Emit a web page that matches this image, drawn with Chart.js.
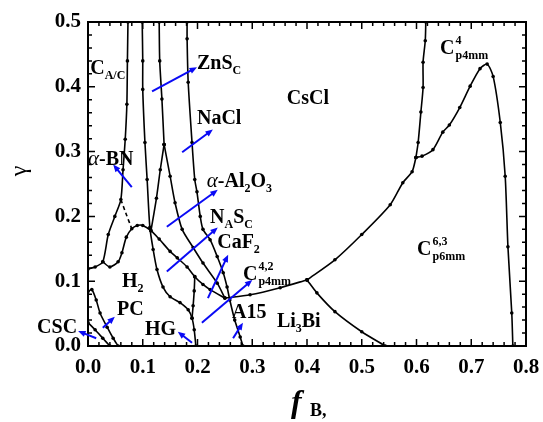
<!DOCTYPE html>
<html>
<head>
<meta charset="utf-8">
<script src="https://cdn.jsdelivr.net/npm/chart.js@4.4.0/dist/chart.umd.min.js"></script>
<style>
  html, body { margin: 0; padding: 0; background: #fff; }
  #wrap { width: 543px; height: 422px; }
</style>
</head>
<body>
<div id="wrap"><canvas id="phase"></canvas></div>
<script>
    // phase boundaries, [f_B, gamma]
    const lineA = [[0.073,0.50],[0.072,0.44],[0.071,0.373],[0.068,0.319],[0.064,0.272],[0.060,0.226],[0.049,0.200],[0.037,0.172],[0.027,0.130],[0.013,0.122],[0,0.119]];
    const dashAB = [[0.060,0.226],[0.070,0.203],[0.080,0.181]];
    const dome = [[0.027,0.130],[0.040,0.122],[0.055,0.130],[0.062,0.144],[0.070,0.168],[0.080,0.181],[0.090,0.186],[0.100,0.186],[0.115,0.178],[0.130,0.165],[0.150,0.146],[0.163,0.136],[0.181,0.122],[0.195,0.107],[0.210,0.095],[0.223,0.087],[0.250,0.074]];
    const lineB = [[0.099,0.50],[0.100,0.44],[0.100,0.396],[0.104,0.314],[0.108,0.257],[0.113,0.183],[0.119,0.149],[0.126,0.118],[0.137,0.091],[0.150,0.076],[0.168,0.067],[0.183,0.056],[0.190,0.043],[0.194,0.025],[0.197,0]];
    const lineC = [[0.130,0.50],[0.131,0.44],[0.135,0.381],[0.139,0.311]];
    const lineCleft = [[0.139,0.311],[0.132,0.272],[0.125,0.228],[0.115,0.178]];
    const lineCright = [[0.139,0.311],[0.150,0.262],[0.159,0.221],[0.172,0.180],[0.192,0.152],[0.210,0.128],[0.236,0.097],[0.250,0.074]];
    const lineHG = [[0.195,0.107],[0.194,0.085],[0.192,0.062],[0.190,0.043]];
    const lineD = [[0.181,0.50],[0.181,0.474],[0.183,0.407],[0.190,0.314],[0.195,0.257],[0.199,0.238],[0.205,0.200],[0.210,0.180],[0.223,0.164],[0.236,0.138],[0.247,0.113],[0.254,0.091],[0.259,0.071],[0.268,0.040],[0.278,0.014],[0.283,0]];
    const lineC42 = [[0.250,0.074],[0.296,0.079],[0.351,0.090],[0.400,0.102]];
    const lineLi3Bi = [[0.400,0.102],[0.418,0.082],[0.451,0.053],[0.500,0.022],[0.543,0]];
    const bigLow = [[0.400,0.102],[0.451,0.133],[0.500,0.172],[0.552,0.218],[0.575,0.252],[0.592,0.269],[0.599,0.291]];
    const bigHigh = [[0.599,0.291],[0.610,0.293],[0.630,0.303],[0.648,0.330],[0.660,0.341],[0.679,0.368],[0.698,0.401],[0.716,0.428],[0.729,0.435],[0.740,0.416],[0.753,0.345],[0.762,0.262],[0.767,0.153],[0.774,0.051],[0.776,0]];
    const lineE = [[0.617,0.50],[0.616,0.471],[0.612,0.438],[0.612,0.399],[0.608,0.361],[0.603,0.314],[0.599,0.291]];
    const linePC1 = [[0,0.084],[0.007,0.087],[0.015,0.071],[0.022,0.051],[0.035,0.029],[0.046,0.012],[0.055,0]];
    const linePC2 = [[0,0.036],[0.013,0.025],[0.027,0.012],[0.040,0]];

    // phase labels: left x, baseline, parts
    const labels = [
        { at: [0.004,0.4195], parts: [['C'],['A/C','sub']] },
        { at: [0.199,0.427], parts: [['ZnS'],['C','sub']] },
        { at: [0.199,0.342], parts: [['NaCl']] },
        { at: [0.363,0.373], parts: [['CsCl']] },
        { at: [0.643,0.450], parts: [['C'],['4','p4mm','supsub']] },
        { at: [0.000,0.280], parts: [['\u03b1','ital'],['-BN']] },
        { at: [0.217,0.245], parts: [['\u03b1','ital'],['-Al'],['2','sub'],['O'],['3','sub']] },
        { at: [0.223,0.190], parts: [['N'],['A','sub'],['S'],['C','sub']] },
        { at: [0.236,0.152], parts: [['CaF'],['2','sub']] },
        { at: [0.283,0.102], parts: [['C'],['4,2','p4mm','supsub']] },
        { at: [0.062,0.091], parts: [['H'],['2','sub']] },
        { at: [0.053,0.048], parts: [['PC']] },
        { at: [0.104,0.017], parts: [['HG']] },
        { at: [0.263,0.043], parts: [['A15']] },
        { at: [0.345,0.029], parts: [['Li'],['3','sub'],['Bi']] },
        { at: [0.601,0.141], parts: [['C'],['6,3','p6mm','supsub']] },
        { at: [-0.093,0.020], parts: [['CSC']] }
    ];

    // blue arrows: tail -> head
    const arrows = [
        [[0.117,0.393],[0.199,0.430]],
        [[0.172,0.299],[0.228,0.334]],
        [[0.080,0.245],[0.046,0.280]],
        [[0.144,0.184],[0.237,0.241]],
        [[0.144,0.115],[0.237,0.183]],
        [[0.219,0.074],[0.256,0.141]],
        [[0.208,0.036],[0.300,0.102]],
        [[0.265,0.012],[0.283,0.036]],
        [[0.190,0.005],[0.164,0.022]],
        [[0.027,0.028],[0.049,0.045]],
        [[0.015,0.012],[-0.018,0.023]]
    ];

    const xTicks = [0,0.1,0.2,0.3,0.4,0.5,0.6,0.7,0.8];
    const yTicks = [0,0.1,0.2,0.3,0.4,0.5];

    const SERIF = '"Liberation Serif", "Times New Roman", serif';

    function curve(pts, dashed) {
        return {
            data: pts.map(p => ({ x: p[0], y: p[1] })),
            showLine: true,
            borderColor: '#000',
            borderWidth: 1.6,
            borderDash: dashed ? [4, 3] : [],
            pointRadius: dashed ? 0 : 1.8,
            pointBackgroundColor: '#000',
            pointBorderWidth: 0,
            tension: 0.25
        };
    }

    const frame = {
        id: 'frame',
        afterDraw(chart) {
            const { ctx, chartArea: a, scales: { x, y } } = chart;
            ctx.save();
            ctx.strokeStyle = '#000';
            ctx.lineWidth = 2;
            ctx.strokeRect(a.left, a.top, a.right - a.left, a.bottom - a.top);
            ctx.lineWidth = 1.5;
            // inward ticks on all sides
            for (let i = 0; i <= 40; i++) {
                const px = x.getPixelForValue(i * 0.02);
                const len = i % 5 === 0 ? 7 : 4;
                ctx.beginPath();
                ctx.moveTo(px, a.bottom); ctx.lineTo(px, a.bottom - len);
                ctx.moveTo(px, a.top); ctx.lineTo(px, a.top + len);
                ctx.stroke();
            }
            for (let i = 0; i <= 25; i++) {
                const py = y.getPixelForValue(i * 0.02);
                const len = i % 5 === 0 ? 7 : 4;
                ctx.beginPath();
                ctx.moveTo(a.left, py); ctx.lineTo(a.left + len, py);
                ctx.moveTo(a.right, py); ctx.lineTo(a.right - len, py);
                ctx.stroke();
            }

            // arrows
            ctx.strokeStyle = '#0a0af5';
            ctx.fillStyle = '#0a0af5';
            ctx.lineWidth = 2;
            arrows.forEach(([t, h]) => {
                const x0 = x.getPixelForValue(t[0]), y0 = y.getPixelForValue(t[1]);
                const x1 = x.getPixelForValue(h[0]), y1 = y.getPixelForValue(h[1]);
                const ang = Math.atan2(y1 - y0, x1 - x0);
                ctx.beginPath();
                ctx.moveTo(x0, y0);
                ctx.lineTo(x1 - 5 * Math.cos(ang), y1 - 5 * Math.sin(ang));
                ctx.stroke();
                ctx.beginPath();
                ctx.moveTo(x1, y1);
                ctx.lineTo(x1 - 8 * Math.cos(ang - 0.4), y1 - 8 * Math.sin(ang - 0.4));
                ctx.lineTo(x1 - 8 * Math.cos(ang + 0.4), y1 - 8 * Math.sin(ang + 0.4));
                ctx.closePath();
                ctx.fill();
            });

            // phase labels
            ctx.fillStyle = '#000';
            ctx.textBaseline = 'alphabetic';
            ctx.textAlign = 'left';
            labels.forEach(l => {
                let px = x.getPixelForValue(l.at[0]);
                const py = y.getPixelForValue(l.at[1]);
                l.parts.forEach(p => {
                    const kind = p[p.length - 1];
                    if (kind === 'sub') {
                        ctx.font = 'bold 12px ' + SERIF;
                        ctx.fillText(p[0], px, py + 5);
                        px += ctx.measureText(p[0]).width;
                    } else if (kind === 'supsub') {
                        ctx.font = 'bold 12px ' + SERIF;
                        ctx.fillText(p[0], px + 1, py - 10);
                        ctx.fillText(p[1], px + 1, py + 5);
                        px += Math.max(ctx.measureText(p[0]).width, ctx.measureText(p[1]).width);
                    } else if (kind === 'ital') {
                        ctx.font = 'italic 21px ' + SERIF;
                        ctx.fillText(p[0], px, py);
                        px += ctx.measureText(p[0]).width;
                    } else {
                        ctx.font = 'bold 20px ' + SERIF;
                        ctx.fillText(p[0], px, py);
                        px += ctx.measureText(p[0]).width;
                    }
                });
            });

            // axis titles
            ctx.font = 'bold italic 32px ' + SERIF;
            ctx.fillText('f', 291, 412);
            ctx.font = 'bold 18px ' + SERIF;
            ctx.fillText('B,', 310, 416);
            ctx.save();
            ctx.translate(26, 171);
            ctx.rotate(-Math.PI / 2);
            ctx.textAlign = 'center';
            ctx.font = '24px ' + SERIF;
            ctx.fillText('\u03b3', 0, 0);
            ctx.restore();
            ctx.restore();
        }
    };

    new Chart(document.getElementById('phase'), {
        type: 'scatter',
        data: {
            datasets: [
                curve(lineA), curve(dashAB, true), curve(dome), curve(lineB),
                curve(lineC), curve(lineCleft), curve(lineCright), curve(lineHG), curve(lineD),
                curve(lineC42), curve(lineLi3Bi), curve(bigLow), curve(bigHigh),
                curve(lineE), curve(linePC1), curve(linePC2)
            ]
        },
        plugins: [frame],
        options: {
            responsive: true,
            maintainAspectRatio: false,
            animation: false,
            layout: { padding: { top: 22, right: 17, left: 0, bottom: 0 } },
            plugins: { legend: { display: false }, tooltip: { enabled: false } },
            scales: {
                x: {
                    type: 'linear', min: 0, max: 0.8,
                    afterBuildTicks: s => { s.ticks = xTicks.map(v => ({ value: v })); },
                    afterFit: s => { s.height = 76; s.paddingLeft = 0; s.paddingRight = 0; },
                    grid: { display: false, drawTicks: false },
                    border: { display: false },
                    ticks: { color: '#000', padding: 9, font: { family: SERIF, size: 21, weight: 'bold' }, callback: v => v.toFixed(1) }
                },
                y: {
                    type: 'linear', min: 0, max: 0.5,
                    afterBuildTicks: s => { s.ticks = yTicks.map(v => ({ value: v })); },
                    afterFit: s => { s.width = 88; s.paddingTop = 0; s.paddingBottom = 0; },
                    grid: { display: false, drawTicks: false },
                    border: { display: false },
                    ticks: { color: '#000', padding: 7, font: { family: SERIF, size: 21, weight: 'bold' }, callback: v => v.toFixed(1) }
                }
            }
        }
    });
</script>
</body>
</html>
